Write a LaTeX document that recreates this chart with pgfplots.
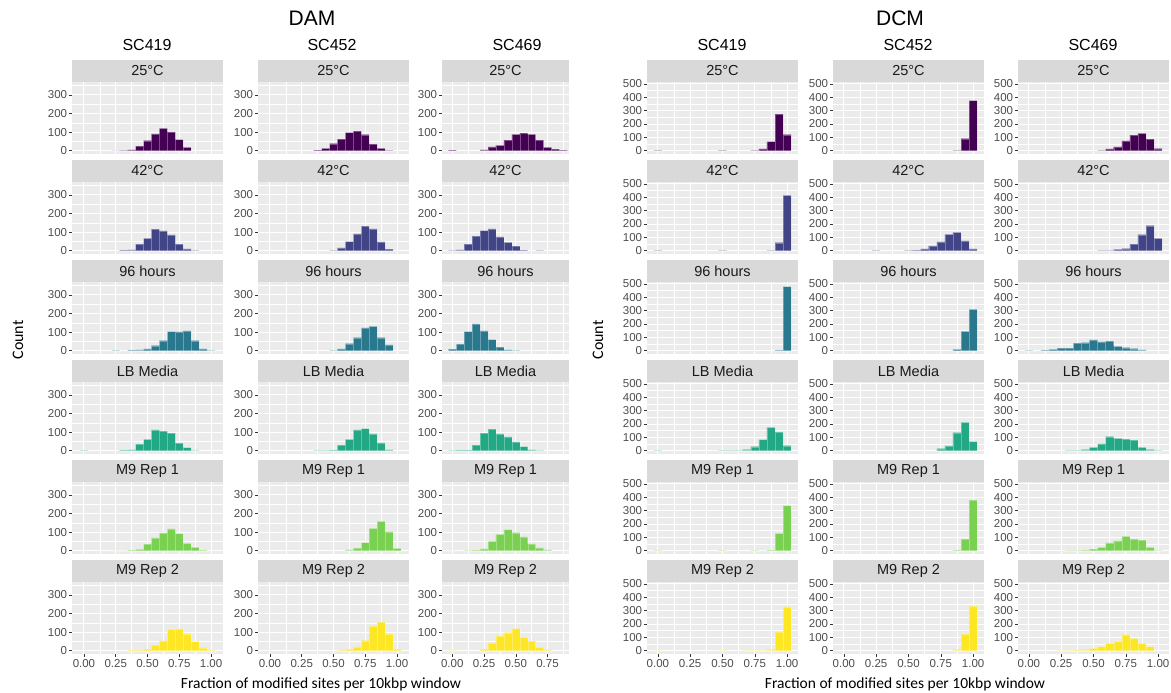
\documentclass[border=0pt]{standalone}
\usepackage{fontspec}
\setmainfont{Liberation Sans}
\newfontfamily\cali{Carlito}
\usepackage{pgfplots}
\pgfplotsset{compat=1.18}
\definecolor{ggbg}{RGB}{235,235,235}
\definecolor{ggstrip}{RGB}{217,217,217}
\definecolor{ggstriptxt}{RGB}{26,26,26}
\definecolor{ggtxt}{RGB}{77,77,77}
\definecolor{ggtick}{RGB}{51,51,51}
\definecolor{v1}{HTML}{440154}
\definecolor{v2}{HTML}{414487}
\definecolor{v3}{HTML}{2A788E}
\definecolor{v4}{HTML}{22A884}
\definecolor{v5}{HTML}{7AD151}
\definecolor{v6}{HTML}{FDE725}
\pgfplotsset{
 gg/.style={
  scale only axis, height=72pt,
  axis background/.style={fill=ggbg},
  axis line style={draw=none},
  grid=both,
  major grid style={draw=white, line width=0.9pt},
  minor grid style={draw=white, line width=0.45pt},
  tick align=outside, major tick length=2.75pt, minor tick length=0pt,
  tick style={draw=ggtick, line width=0.5pt},
  tick pos=left,
  ticklabel style={font=\fontsize{11.5}{13}\selectfont, text=ggtxt},
  yticklabel style={inner sep=0pt, xshift=-2pt},
  xticklabel style={inner sep=0pt, yshift=-2.5pt},
  /pgf/number format/assume math mode=true,
 },
 dam/.style={ymin=-17.6, ymax=369.6, ytick={0,100,200,300}, minor ytick={50,150,250,350}, yticklabels={0,100,200,300}},
 dcm/.style={ymin=-24.5, ymax=514.5, ytick={0,100,200,300,400,500}, minor ytick={50,150,250,350,450}, yticklabels={0,100,200,300,400,500}},
 fullA/.style={width=151pt, xmin=-0.094, xmax=1.094, xtick={0,0.25,0.5,0.75,1}, minor xtick={0.125,0.375,0.625,0.875}, xticklabels={0.00,0.25,0.50,0.75,1.00}},
 fullB/.style={width=151pt, xmin=-0.084, xmax=1.084, xtick={0,0.25,0.5,0.75,1}, minor xtick={0.125,0.375,0.625,0.875}, xticklabels={0.00,0.25,0.50,0.75,1.00}},
 narrow/.style={width=127pt, xmin=-0.081, xmax=0.919, xtick={0,0.25,0.5,0.75}, minor xtick={0.125,0.375,0.625,0.875}, xticklabels={0.00,0.25,0.50,0.75}},
 nox/.style={xticklabels={}, x tick style={draw=none}},
 strip/.style={after end axis/.append code={
   \fill[ggstrip] (rel axis cs:0,1) rectangle ([yshift=22pt]rel axis cs:1,1);
   \node[text=ggstriptxt, font=\fontsize{14.5}{16}\selectfont, inner sep=0pt] at ([yshift=11pt]rel axis cs:0.5,1) {#1};}},
 hb/.style={ybar, bar width=0.0625, bar shift=0pt, fill=#1, draw=white, draw opacity=0.3, line width=0.3pt},
}
\begin{document}
\begin{tikzpicture}
\useasboundingbox (0,0) rectangle (1171pt,-693pt);
% ---------- titles ----------
\node[font=\fontsize{21}{24}\selectfont] at (312pt,-18pt) {DAM};
\node[font=\fontsize{21}{24}\selectfont] at (900pt,-18pt) {DCM};
\foreach \x/\t in {147/SC419,332/SC452,517/SC469,722/SC419,908/SC452,1093/SC469}
  \node[font=\fontsize{16}{18}\selectfont] at (\x pt,-45pt) {\t};
\node[font=\cali\fontsize{16}{18}\selectfont, rotate=90] at (18pt,-340pt) {Count};
\node[font=\cali\fontsize{16}{18}\selectfont, rotate=90] at (598pt,-340pt) {Count};
\node[font=\cali\fontsize{15.5}{18}\selectfont] at (321pt,-684pt) {Fraction of modified sites per 10kbp window};
\node[font=\cali\fontsize{15.5}{18}\selectfont] at (905pt,-684pt) {Fraction of modified sites per 10kbp window};

% ================= DAM column 1 (SC419) =================
\begin{axis}[gg,dam,fullA,nox,strip={25°C},at={(72pt,-82pt)},anchor=north west]
\addplot[hb=v1] coordinates {(0.25,1)(0.3125,2)(0.375,5)(0.4375,25)(0.5,54)(0.5625,90)(0.625,120)(0.6875,100)(0.75,60)(0.8125,18)};
\end{axis}
\begin{axis}[gg,dam,fullA,nox,strip={42°C},at={(72pt,-182pt)},anchor=north west]
\addplot[hb=v2] coordinates {(0.3125,3)(0.375,5)(0.4375,35)(0.5,67)(0.5625,116)(0.625,107)(0.6875,85)(0.75,35)(0.8125,10)(0.875,2)};
\end{axis}
\begin{axis}[gg,dam,fullA,nox,strip={96 hours},at={(72pt,-282pt)},anchor=north west]
\addplot[hb=v3] coordinates {(0.25,2)(0.375,3)(0.4375,5)(0.5,10)(0.5625,27)(0.625,54)(0.6875,103)(0.75,101)(0.8125,107)(0.875,54)(0.9375,10)(1,2)};
\end{axis}
\begin{axis}[gg,dam,fullA,nox,strip={LB Media},at={(72pt,-382pt)},anchor=north west]
\addplot[hb=v4] coordinates {(0,2)(0.3125,3)(0.375,5)(0.4375,35)(0.5,61)(0.5625,112)(0.625,105)(0.6875,95)(0.75,41)(0.8125,17)(0.875,2)};
\end{axis}
\begin{axis}[gg,dam,fullA,nox,strip={M9 Rep 1},at={(72pt,-482pt)},anchor=north west]
\addplot[hb=v5] coordinates {(0.25,1)(0.3125,1)(0.375,3)(0.4375,7)(0.5,35)(0.5625,69)(0.625,96)(0.6875,118)(0.75,92)(0.8125,40)(0.875,18)(0.9375,3)};
\end{axis}
\begin{axis}[gg,dam,fullA,strip={M9 Rep 2},at={(72pt,-582pt)},anchor=north west]
\addplot[hb=v6] coordinates {(0.375,3)(0.4375,3)(0.5,9)(0.5625,30)(0.625,53)(0.6875,115)(0.75,118)(0.8125,90)(0.875,49)(0.9375,15)(1,3)};
\end{axis}

% ================= DAM column 2 (SC452) =================
\begin{axis}[gg,dam,fullA,nox,strip={25°C},at={(258pt,-82pt)},anchor=north west]
\addplot[hb=v1] coordinates {(0.375,3)(0.4375,12)(0.5,38)(0.5625,62)(0.625,98)(0.6875,105)(0.75,86)(0.8125,35)(0.875,12)(0.9375,2)};
\end{axis}
\begin{axis}[gg,dam,fullA,nox,strip={42°C},at={(258pt,-182pt)},anchor=north west]
\addplot[hb=v2] coordinates {(0.5,2)(0.5625,16)(0.625,49)(0.6875,90)(0.75,132)(0.8125,118)(0.875,47)(0.9375,9)};
\end{axis}
\begin{axis}[gg,dam,fullA,nox,strip={96 hours},at={(258pt,-282pt)},anchor=north west]
\addplot[hb=v3] coordinates {(0.5,2)(0.5625,10)(0.625,38)(0.6875,70)(0.75,123)(0.8125,131)(0.875,70)(0.9375,31)};
\end{axis}
\begin{axis}[gg,dam,fullA,nox,strip={LB Media},at={(258pt,-382pt)},anchor=north west]
\addplot[hb=v4] coordinates {(0.375,2)(0.4375,2)(0.5,3)(0.5625,30)(0.625,61)(0.6875,112)(0.75,119)(0.8125,91)(0.875,42)(0.9375,5)};
\end{axis}
\begin{axis}[gg,dam,fullA,nox,strip={M9 Rep 1},at={(258pt,-482pt)},anchor=north west]
\addplot[hb=v5] coordinates {(0.625,5)(0.6875,14)(0.75,44)(0.8125,120)(0.875,158)(0.9375,102)(1,12)};
\end{axis}
\begin{axis}[gg,dam,fullA,strip={M9 Rep 2},at={(258pt,-582pt)},anchor=north west]
\addplot[hb=v6] coordinates {(0.5625,3)(0.625,8)(0.6875,21)(0.75,54)(0.8125,134)(0.875,154)(0.9375,91)(1,8)};
\end{axis}

% ================= DAM column 3 (SC469) =================
\begin{axis}[gg,dam,narrow,nox,strip={25°C},at={(442pt,-82pt)},anchor=north west]
\addplot[hb=v1] coordinates {(0,3)(0.25,5)(0.3125,21)(0.375,29)(0.4375,57)(0.5,88)(0.5625,95)(0.625,88)(0.6875,57)(0.75,18)(0.8125,9)(0.875,3)};
\end{axis}
\begin{axis}[gg,dam,narrow,nox,strip={42°C},at={(442pt,-182pt)},anchor=north west]
\addplot[hb=v2] coordinates {(0,2)(0.0625,5)(0.125,35)(0.1875,78)(0.25,108)(0.3125,118)(0.375,75)(0.4375,45)(0.5,25)(0.5625,3)(0.6875,2)};
\end{axis}
\begin{axis}[gg,dam,narrow,nox,strip={96 hours},at={(442pt,-282pt)},anchor=north west]
\addplot[hb=v3] coordinates {(0,8)(0.0625,35)(0.125,103)(0.1875,145)(0.25,107)(0.3125,60)(0.375,20)(0.4375,5)(0.5,2)};
\end{axis}
\begin{axis}[gg,dam,narrow,nox,strip={LB Media},at={(442pt,-382pt)},anchor=north west]
\addplot[hb=v4] coordinates {(0,2)(0.0625,3)(0.125,3)(0.1875,30)(0.25,95)(0.3125,116)(0.375,90)(0.4375,75)(0.5,48)(0.5625,22)(0.625,5)(0.6875,2)};
\end{axis}
\begin{axis}[gg,dam,narrow,nox,strip={M9 Rep 1},at={(442pt,-482pt)},anchor=north west]
\addplot[hb=v5] coordinates {(0,1)(0.125,2)(0.1875,3)(0.25,10)(0.3125,50)(0.375,88)(0.4375,114)(0.5,97)(0.5625,75)(0.625,37)(0.6875,15)(0.75,5)};
\end{axis}
\begin{axis}[gg,dam,narrow,strip={M9 Rep 2},at={(442pt,-582pt)},anchor=north west]
\addplot[hb=v6] coordinates {(0,2)(0.25,8)(0.3125,42)(0.375,80)(0.4375,97)(0.5,119)(0.5625,72)(0.625,52)(0.6875,18)(0.75,5)};
\end{axis}

% ================= DCM column 1 (SC419) =================
\begin{axis}[gg,dcm,fullB,nox,strip={25°C},at={(647pt,-82pt)},anchor=north west]
\addplot[hb=v1] coordinates {(0,2)(0.5,2)(0.75,3)(0.8125,13)(0.875,69)(0.9375,274)(1,120)};
\end{axis}
\begin{axis}[gg,dcm,fullB,nox,strip={42°C},at={(647pt,-182pt)},anchor=north west]
\addplot[hb=v2] coordinates {(0,3)(0.5,3)(0.875,3)(0.9375,60)(1,415)};
\end{axis}
\begin{axis}[gg,dcm,fullB,nox,strip={96 hours},at={(647pt,-282pt)},anchor=north west]
\addplot[hb=v3] coordinates {(0.9375,5)(1,480)};
\end{axis}
\begin{axis}[gg,dcm,fullB,nox,strip={LB Media},at={(647pt,-382pt)},anchor=north west]
\addplot[hb=v4] coordinates {(0,3)(0.5,2)(0.5625,2)(0.625,2)(0.6875,8)(0.75,30)(0.8125,84)(0.875,175)(0.9375,140)(1,38)};
\end{axis}
\begin{axis}[gg,dcm,fullB,nox,strip={M9 Rep 1},at={(647pt,-482pt)},anchor=north west]
\addplot[hb=v5] coordinates {(0,3)(0.5,3)(0.75,2)(0.875,5)(0.9375,130)(1,338)};
\end{axis}
\begin{axis}[gg,dcm,fullB,strip={M9 Rep 2},at={(647pt,-582pt)},anchor=north west]
\addplot[hb=v6] coordinates {(0,2)(0.5,2)(0.6875,2)(0.75,3)(0.8125,3)(0.875,8)(0.9375,140)(1,328)};
\end{axis}

% ================= DCM column 2 (SC452) =================
\begin{axis}[gg,dcm,fullB,nox,strip={25°C},at={(833pt,-82pt)},anchor=north west]
\addplot[hb=v1] coordinates {(0.875,2)(0.9375,90)(1,375)};
\end{axis}
\begin{axis}[gg,dcm,fullB,nox,strip={42°C},at={(833pt,-182pt)},anchor=north west]
\addplot[hb=v2] coordinates {(0.25,2)(0.5,2)(0.5625,5)(0.625,13)(0.6875,36)(0.75,67)(0.8125,123)(0.875,138)(0.9375,74)(1,13)};
\end{axis}
\begin{axis}[gg,dcm,fullB,nox,strip={96 hours},at={(833pt,-282pt)},anchor=north west]
\addplot[hb=v3] coordinates {(0.875,10)(0.9375,144)(1,310)};
\end{axis}
\begin{axis}[gg,dcm,fullB,nox,strip={LB Media},at={(833pt,-382pt)},anchor=north west]
\addplot[hb=v4] coordinates {(0.75,15)(0.8125,36)(0.875,135)(0.9375,213)(1,69)};
\end{axis}
\begin{axis}[gg,dcm,fullB,nox,strip={M9 Rep 1},at={(833pt,-482pt)},anchor=north west]
\addplot[hb=v5] coordinates {(0.875,5)(0.9375,86)(1,378)};
\end{axis}
\begin{axis}[gg,dcm,fullB,strip={M9 Rep 2},at={(833pt,-582pt)},anchor=north west]
\addplot[hb=v6] coordinates {(0.875,8)(0.9375,125)(1,333)};
\end{axis}

% ================= DCM column 3 (SC469) =================
\begin{axis}[gg,dcm,fullB,nox,strip={25°C},at={(1018pt,-82pt)},anchor=north west]
\addplot[hb=v1] coordinates {(0.5625,3)(0.625,13)(0.6875,29)(0.75,73)(0.8125,117)(0.875,130)(0.9375,86)(1,15)};
\end{axis}
\begin{axis}[gg,dcm,fullB,nox,strip={42°C},at={(1018pt,-182pt)},anchor=north west]
\addplot[hb=v2] coordinates {(0.5625,2)(0.625,3)(0.6875,10)(0.75,15)(0.8125,50)(0.875,120)(0.9375,187)(1,92)};
\end{axis}
\begin{axis}[gg,dcm,fullB,nox,strip={96 hours},at={(1018pt,-282pt)},anchor=north west]
\addplot[hb=v3] coordinates {(0,2)(0.125,5)(0.1875,10)(0.25,20)(0.3125,20)(0.375,56)(0.4375,60)(0.5,82)(0.5625,67)(0.625,72)(0.6875,33)(0.75,23)(0.8125,15)(0.875,7)};
\end{axis}
\begin{axis}[gg,dcm,fullB,nox,strip={LB Media},at={(1018pt,-382pt)},anchor=north west]
\addplot[hb=v4] coordinates {(0.3125,2)(0.375,3)(0.4375,8)(0.5,25)(0.5625,52)(0.625,105)(0.6875,92)(0.75,87)(0.8125,80)(0.875,25)(0.9375,8)(1,3)};
\end{axis}
\begin{axis}[gg,dcm,fullB,nox,strip={M9 Rep 1},at={(1018pt,-482pt)},anchor=north west]
\addplot[hb=v5] coordinates {(0.3125,2)(0.375,3)(0.4375,5)(0.5,12)(0.5625,25)(0.625,59)(0.6875,74)(0.75,108)(0.8125,87)(0.875,80)(0.9375,26)(1,3)};
\end{axis}
\begin{axis}[gg,dcm,fullB,strip={M9 Rep 2},at={(1018pt,-582pt)},anchor=north west]
\addplot[hb=v6] coordinates {(0.25,2)(0.3125,3)(0.375,5)(0.4375,8)(0.5,18)(0.5625,31)(0.625,54)(0.6875,69)(0.75,120)(0.8125,92)(0.875,54)(0.9375,31)};
\end{axis}
\end{tikzpicture}
\end{document}
